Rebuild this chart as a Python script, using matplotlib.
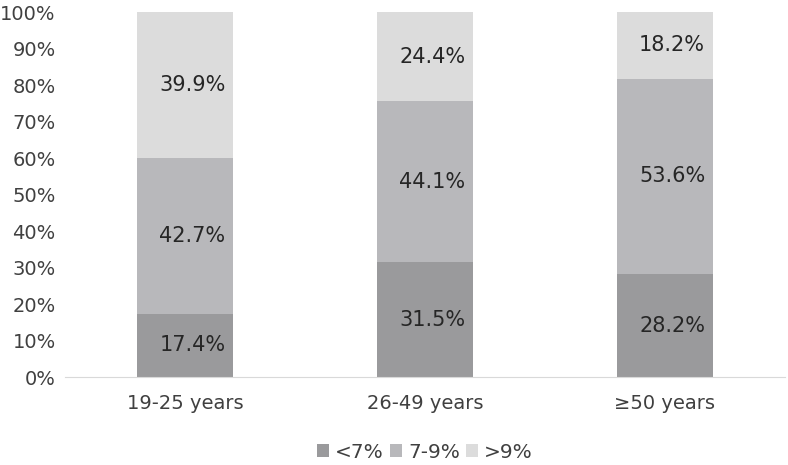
import matplotlib
matplotlib.use("Agg")
import matplotlib.pyplot as plt
import matplotlib.ticker as ticker
import numpy as np

categories = ["19-25 years", "26-49 years", "\u226550 years"]
series_names = ["<7%", "7-9%", ">9%"]
below_7 = [17.4, 31.5, 28.2]
between_7_9 = [42.7, 44.1, 53.6]
above_9 = [39.9, 24.4, 18.2]

COLORS = ["#9a9a9c", "#b8b8bb", "#dcdcdc"]
TEXT_COLOR = "#404040"

fig = plt.figure(figsize=(7.88, 4.65), dpi=100)
ax = fig.add_axes([0.083, 0.189, 0.913, 0.785])

x = np.arange(len(categories))
bottom = np.zeros(len(categories))
for name, vals, color in zip(series_names, [below_7, between_7_9, above_9], COLORS):
    vals = np.array(vals)
    ax.bar(x, vals, 0.4, bottom=bottom, color=color, label=name)
    for xi, b, v in zip(x, bottom, vals):
        ax.text(xi + 0.03, b + v / 2, f"{v:.1f}%", ha="center", va="center",
                fontsize=15, color="#262626")
    bottom += vals

ax.set_xlim(-0.5, len(categories) - 0.5)
ax.set_ylim(0, 100)
ax.yaxis.set_major_locator(ticker.MultipleLocator(10))
ax.yaxis.set_major_formatter(ticker.FuncFormatter(lambda v, _: f"{v:.0f}%"))
ax.set_xticks(x)
ax.set_xticklabels(categories)
ax.tick_params(axis="both", length=0, labelsize=14, colors=TEXT_COLOR)
ax.tick_params(axis="x", pad=12)
ax.tick_params(axis="y", pad=7)
for side in ["top", "right", "left"]:
    ax.spines[side].set_visible(False)
ax.spines["bottom"].set_color("#d9d9d9")

ax.legend(loc="upper center", bbox_to_anchor=(0.5, -0.13), ncol=3, frameon=False,
          fontsize=14.5, handlelength=0.6, handleheight=0.6, handletextpad=0.3,
          columnspacing=0.3, labelcolor=TEXT_COLOR)

fig.savefig("out.png", dpi=100)
